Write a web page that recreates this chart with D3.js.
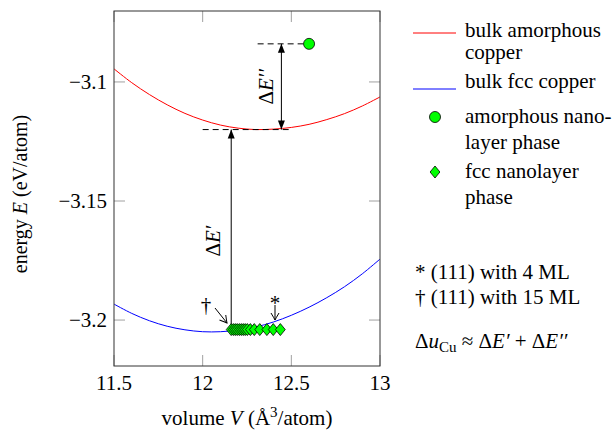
<!DOCTYPE html>
<html>
<head>
<meta charset="utf-8">
<script src="https://cdn.jsdelivr.net/npm/d3@7/dist/d3.min.js"></script>
<style>
  body { margin: 0; background: #fff; }
  svg text { font-family: "Liberation Serif", "DejaVu Serif", "Times New Roman", serif; fill: #000; }
</style>
</head>
<body>
<div id="chart"></div>
<script>
// volume grid the two bulk curves were read at (A^3/atom)
var volumeGrid = [11.5, 11.6, 11.7, 11.8, 11.9, 12.0, 12.1, 12.2, 12.3, 12.4, 12.5, 12.6, 12.7, 12.8, 12.9, 13.0];
// bulk amorphous copper (red)
var amorphousEnergy = [-3.0945, -3.1003, -3.1053, -3.1096, -3.1132, -3.1160, -3.1181, -3.1194, -3.1200, -3.1198, -3.1191, -3.1178, -3.1158, -3.1133, -3.1101, -3.1063];
// bulk fcc copper (blue)
var fccEnergy = [-3.1933, -3.1972, -3.2003, -3.2026, -3.2041, -3.2049, -3.2049, -3.2042, -3.2029, -3.2008, -3.1980, -3.1946, -3.1906, -3.1860, -3.1806, -3.1744];

// nanolayer phases
var amorphousLayerVolume = [12.6];
var amorphousLayerEnergy = [-3.084];
var fccLayerVolume = [12.161, 12.173, 12.184, 12.195, 12.207, 12.218, 12.229, 12.240, 12.252, 12.269, 12.291, 12.322, 12.362, 12.398, 12.438];
var fccLayerEnergy = [-3.204, -3.204, -3.204, -3.204, -3.204, -3.204, -3.204, -3.204, -3.204, -3.204, -3.204, -3.204, -3.204, -3.204, -3.204];

var xTicks = [11.5, 12, 12.5, 13];
var yTicks = [-3.1, -3.15, -3.2];

// energy levels used by the delta E annotations
var amorphousMin = -3.12;
var deltaE2Volume = 12.444;  // dE'' arrow
var deltaE1Volume = 12.161;  // dE' arrow

var width = 612;
var height = 431;
var fs = 21;
var serif = "'Liberation Serif', 'DejaVu Serif', 'Times New Roman', serif";

var svg = d3.select("#chart")
    .append("svg")
    .attr("width", width)
    .attr("height", height)
    .attr("font-family", serif);

var x = d3.scaleLinear().domain([11.5, 13]).range([114, 380]);
var y = d3.scaleLinear().domain([-3.2193, -3.0702]).range([366, 11]);

var defs = svg.append("defs");
defs.append("clipPath").attr("id", "plotclip")
    .append("rect")
    .attr("x", x(11.5)).attr("y", y(-3.0702))
    .attr("width", x(13) - x(11.5)).attr("height", y(-3.2193) - y(-3.0702));

//filled latex style arrow head
defs.append("marker")
    .attr("id", "latex")
    .attr("viewBox", "-10 -5 12 10")
    .attr("refX", 0).attr("refY", 0)
    .attr("markerWidth", 12).attr("markerHeight", 10)
    .attr("markerUnits", "userSpaceOnUse")
    .attr("orient", "auto-start-reverse")
    .append("path")
    .attr("d", "M0,0 L-9,-3.5 L-9,3.5 Z")
    .attr("fill", "#000");

//open arrow head for the * and dagger pointers
defs.append("marker")
    .attr("id", "open")
    .attr("viewBox", "-10 -6 12 12")
    .attr("refX", 0).attr("refY", 0)
    .attr("markerWidth", 12).attr("markerHeight", 12)
    .attr("markerUnits", "userSpaceOnUse")
    .attr("orient", "auto")
    .append("path")
    .attr("d", "M-7,-4 Q-2,-1 0,0 Q-2,1 -7,4")
    .attr("fill", "none")
    .attr("stroke", "#000")
    .attr("stroke-width", 1);

//ticks, inward on all four sides
var tickLen = 11;
var ticks = svg.append("g").attr("stroke", "#a0a0a0").attr("stroke-width", 1);
xTicks.forEach(t => {
    ticks.append("line").attr("x1", x(t)).attr("x2", x(t)).attr("y1", y.range()[0]).attr("y2", y.range()[0] - tickLen);
    ticks.append("line").attr("x1", x(t)).attr("x2", x(t)).attr("y1", y.range()[1]).attr("y2", y.range()[1] + tickLen);
});
yTicks.forEach(t => {
    ticks.append("line").attr("x1", x.range()[0]).attr("x2", x.range()[0] + tickLen).attr("y1", y(t)).attr("y2", y(t));
    ticks.append("line").attr("x1", x.range()[1]).attr("x2", x.range()[1] - tickLen).attr("y1", y(t)).attr("y2", y(t));
});

//tick labels
svg.append("g").selectAll("text")
    .data(xTicks).enter().append("text")
    .attr("x", d => x(d))
    .attr("y", 390)
    .attr("text-anchor", "middle")
    .attr("font-size", fs)
    .text(d => String(d));

svg.append("g").selectAll("text")
    .data(yTicks).enter().append("text")
    .attr("x", 107)
    .attr("y", d => y(d) + 7)
    .attr("text-anchor", "end")
    .attr("font-size", fs)
    .text(d => "\u2212" + String(Math.abs(d)));

//curves
var line = d3.line()
    .x((d, i) => x(volumeGrid[i]))
    .y(d => y(d))
    .curve(d3.curveCatmullRom);

var plot = svg.append("g").attr("clip-path", "url(#plotclip)");

plot.append("path")
    .attr("d", line(amorphousEnergy))
    .attr("fill", "none")
    .attr("stroke", "#ff0000")
    .attr("stroke-width", 1);

plot.append("path")
    .attr("d", line(fccEnergy))
    .attr("fill", "none")
    .attr("stroke", "#0000ff")
    .attr("stroke-width", 1);

//dashed reference levels
plot.append("line")
    .attr("x1", x(12.31)).attr("x2", x(amorphousLayerVolume[0]))
    .attr("y1", y(amorphousLayerEnergy[0])).attr("y2", y(amorphousLayerEnergy[0]))
    .attr("stroke", "#000").attr("stroke-dasharray", "6,4");

plot.append("line")
    .attr("x1", x(12.0)).attr("x2", x(12.5))
    .attr("y1", y(amorphousMin)).attr("y2", y(amorphousMin))
    .attr("stroke", "#000").attr("stroke-dasharray", "6,4");

//delta E arrows
svg.append("line")
    .attr("x1", x(deltaE2Volume)).attr("x2", x(deltaE2Volume))
    .attr("y1", y(amorphousLayerEnergy[0])).attr("y2", y(amorphousMin))
    .attr("stroke", "#000").attr("stroke-width", 1)
    .attr("marker-start", "url(#latex)")
    .attr("marker-end", "url(#latex)");

svg.append("line")
    .attr("x1", x(deltaE1Volume)).attr("x2", x(deltaE1Volume))
    .attr("y1", y(fccLayerEnergy[0])).attr("y2", y(amorphousMin))
    .attr("stroke", "#000").attr("stroke-width", 1)
    .attr("marker-end", "url(#latex)");

var dE2 = svg.append("text")
    .attr("transform", "translate(" + (x(deltaE2Volume) - 8) + "," + y((amorphousLayerEnergy[0] + amorphousMin) / 2) + ") rotate(-90)")
    .attr("text-anchor", "middle")
    .attr("font-size", fs);
dE2.append("tspan").text("\u0394");
dE2.append("tspan").attr("font-style", "italic").text("E\u2032\u2032");

var dE1 = svg.append("text")
    .attr("transform", "translate(" + (x(deltaE1Volume) - 11) + "," + 241 + ") rotate(-90)")
    .attr("text-anchor", "middle")
    .attr("font-size", fs);
dE1.append("tspan").text("\u0394");
dE1.append("tspan").attr("font-style", "italic").text("E\u2032");

//dagger and asterisk pointers
svg.append("text").attr("x", 206).attr("y", 312).attr("text-anchor", "middle").attr("font-size", fs).text("\u2020");
svg.append("line")
    .attr("x1", 215).attr("y1", 308).attr("x2", 227).attr("y2", 323)
    .attr("stroke", "#000").attr("marker-end", "url(#open)");

svg.append("text").attr("x", 275).attr("y", 310).attr("text-anchor", "middle").attr("font-size", fs).text("*");
svg.append("line")
    .attr("x1", 275).attr("y1", 305).attr("x2", 275).attr("y2", 320)
    .attr("stroke", "#000").attr("marker-end", "url(#open)");

//markers: diamond about 10 px wide, 12 px tall
var diamondType = {
    draw: function(context, size) {
        var h = Math.sqrt(size) / 2, w = h * 0.82;
        context.moveTo(0, -h);
        context.lineTo(w, 0);
        context.lineTo(0, h);
        context.lineTo(-w, 0);
        context.closePath();
    }
};
var diamond = d3.symbol().type(diamondType).size(144);

svg.append("g").selectAll("path")
    .data(fccLayerVolume).enter().append("path")
    .attr("d", diamond)
    .attr("transform", (d, i) => "translate(" + x(d) + "," + y(fccLayerEnergy[i]) + ")")
    .attr("fill", "#00ff00")
    .attr("stroke", "#000")
    .attr("stroke-width", 0.8);

svg.append("g").selectAll("circle")
    .data(amorphousLayerVolume).enter().append("circle")
    .attr("cx", d => x(d))
    .attr("cy", (d, i) => y(amorphousLayerEnergy[i]))
    .attr("r", 5.5)
    .attr("fill", "#00ff00")
    .attr("stroke", "#000")
    .attr("stroke-width", 0.8);

//frame
svg.append("rect")
    .attr("x", x.range()[0]).attr("y", y.range()[1])
    .attr("width", x.range()[1] - x.range()[0])
    .attr("height", y.range()[0] - y.range()[1])
    .attr("fill", "none")
    .attr("stroke", "#333")
    .attr("stroke-width", 1);

//axis titles
var xt = svg.append("text")
    .attr("x", 247).attr("y", 425)
    .attr("text-anchor", "middle")
    .attr("font-size", fs);
xt.append("tspan").text("volume ");
xt.append("tspan").attr("font-style", "italic").text("V");
xt.append("tspan").text(" (\u00C5");
xt.append("tspan").attr("font-size", 15).attr("dy", -8).text("3");
xt.append("tspan").attr("dy", 8).text("/atom)");

var yt = svg.append("text")
    .attr("transform", "translate(27,194) rotate(-90)")
    .attr("text-anchor", "middle")
    .attr("font-size", 20);
yt.append("tspan").text("energy ");
yt.append("tspan").attr("font-style", "italic").text("E");
yt.append("tspan").text(" (eV/atom)");

//legend
var legendX = 465;
var legend = svg.append("g");

legend.append("line").attr("x1", 413).attr("x2", 456).attr("y1", 33).attr("y2", 33).attr("stroke", "#ff0000");
legend.append("text").attr("x", legendX).attr("y", 37).attr("font-size", fs).text("bulk amorphous");
legend.append("text").attr("x", legendX).attr("y", 59).attr("font-size", fs).text("copper");

legend.append("line").attr("x1", 413).attr("x2", 456).attr("y1", 89).attr("y2", 89).attr("stroke", "#0000ff");
legend.append("text").attr("x", legendX).attr("y", 88).attr("font-size", fs).text("bulk fcc copper");

legend.append("circle").attr("cx", 435).attr("cy", 117).attr("r", 5.5)
    .attr("fill", "#00ff00").attr("stroke", "#000").attr("stroke-width", 0.8);
legend.append("text").attr("x", legendX).attr("y", 123).attr("font-size", fs).text("amorphous nano-");
legend.append("text").attr("x", legendX).attr("y", 149).attr("font-size", fs).text("layer phase");

legend.append("path").attr("d", diamond)
    .attr("transform", "translate(435,172)")
    .attr("fill", "#00ff00").attr("stroke", "#000").attr("stroke-width", 0.8);
legend.append("text").attr("x", legendX).attr("y", 178).attr("font-size", fs).text("fcc nanolayer");
legend.append("text").attr("x", legendX).attr("y", 204).attr("font-size", fs).text("phase");

//notes
svg.append("text").attr("x", 415).attr("y", 279).attr("font-size", fs).text("* (111) with 4 ML");
svg.append("text").attr("x", 415).attr("y", 304).attr("font-size", fs).text("\u2020 (111) with 15 ML");

var eq = svg.append("text").attr("x", 415).attr("y", 348).attr("font-size", fs);
eq.append("tspan").text("\u0394");
eq.append("tspan").attr("font-style", "italic").text("u");
eq.append("tspan").attr("font-size", 15).attr("dy", 4).text("Cu");
eq.append("tspan").attr("dy", -4).text(" \u2248 \u0394");
eq.append("tspan").attr("font-style", "italic").text("E\u2032");
eq.append("tspan").text(" + \u0394");
eq.append("tspan").attr("font-style", "italic").text("E\u2032\u2032");
</script>
</body>
</html>
